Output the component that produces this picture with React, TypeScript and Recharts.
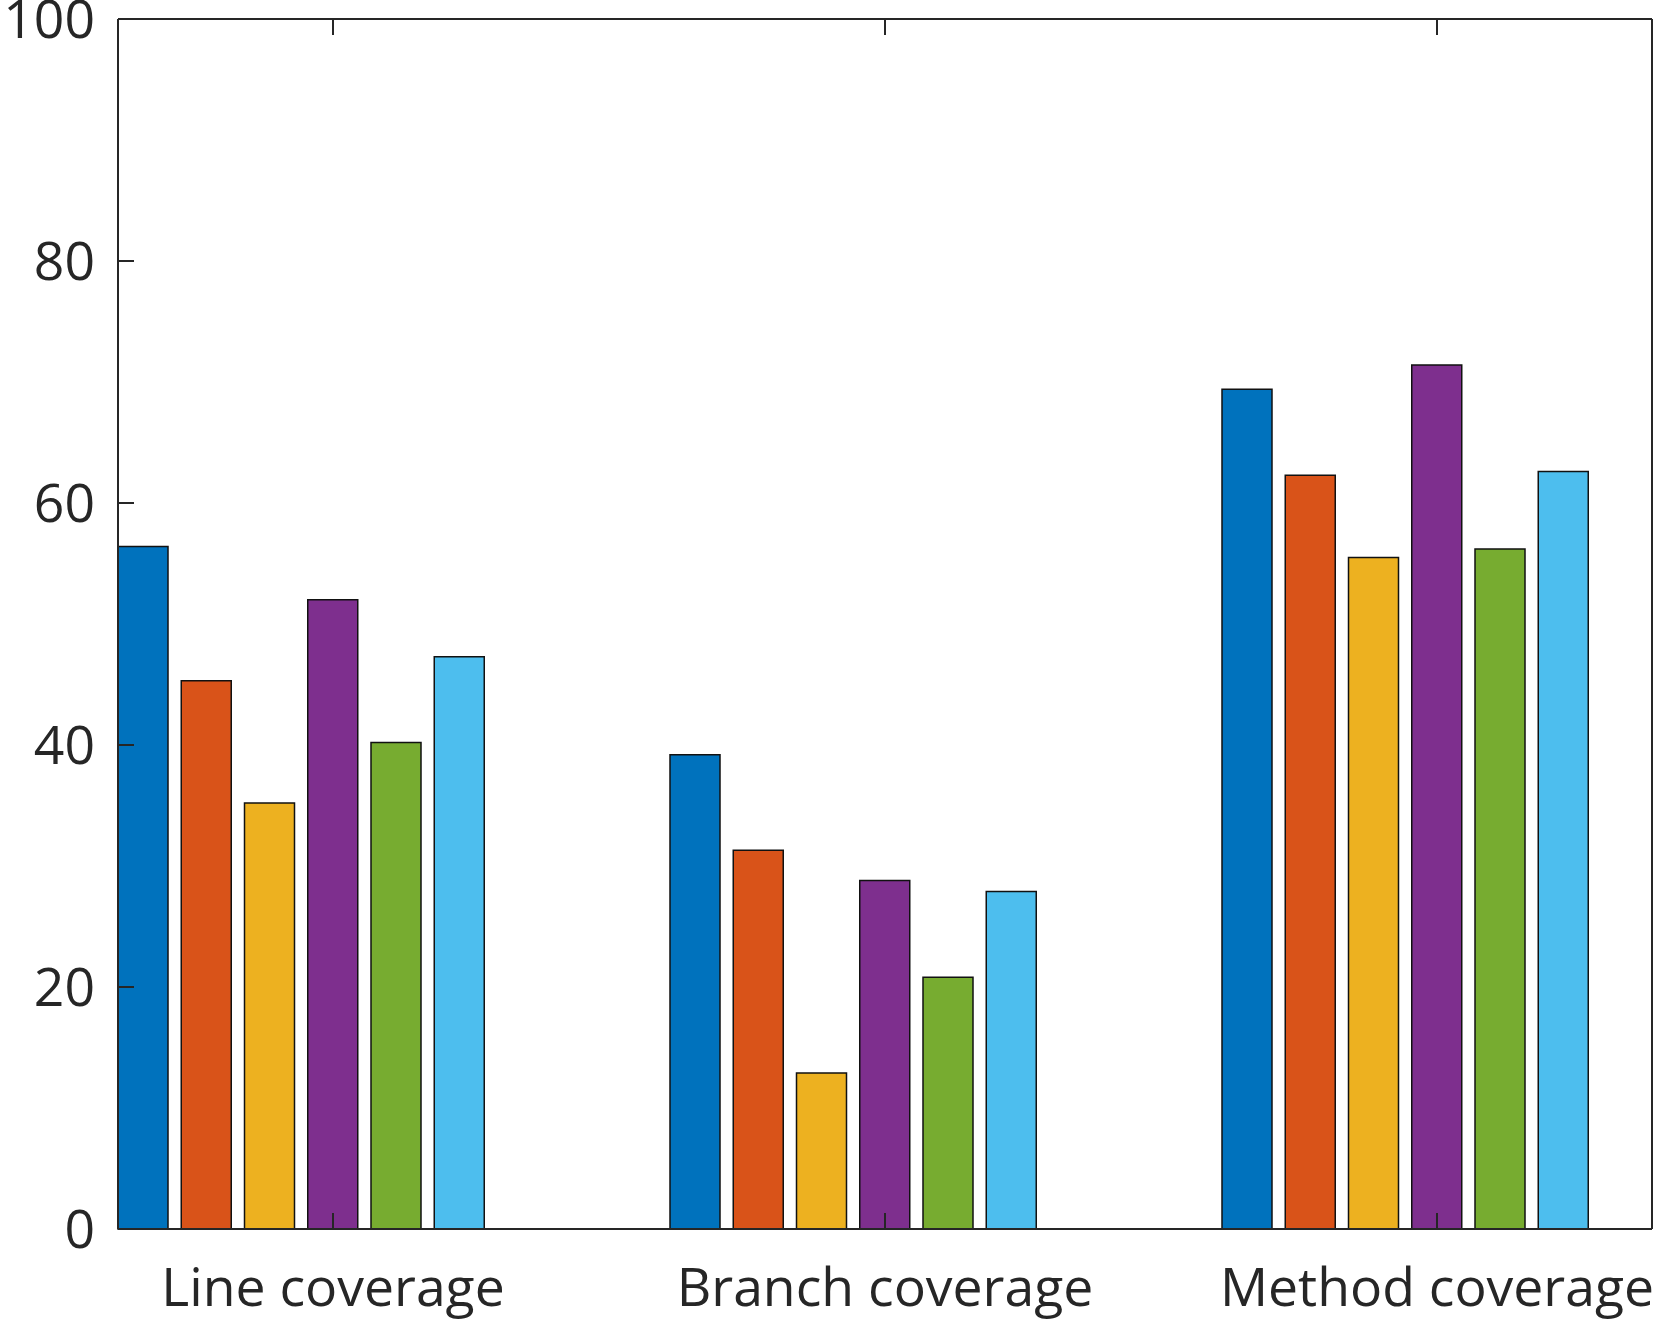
import { BarChart, Bar, XAxis, YAxis } from "recharts";

const categories = ["Line coverage", "Branch coverage", "Method coverage"];

// one array per series, values in %
const series1 = [56.4, 39.2, 69.4];
const series2 = [45.3, 31.3, 62.3];
const series3 = [35.2, 12.9, 55.5];
const series4 = [52.0, 28.8, 71.4];
const series5 = [40.2, 20.8, 56.2];
const series6 = [47.3, 27.9, 62.6];
const series7 = [null, null, null]; // empty 7th group slot

const yTicks = [0, 20, 40, 60, 80, 100];

const colors = ["#0072BD", "#D95319", "#EDB120", "#7E2F8E", "#77AC30", "#4DBEEE", "#A2142F"];

const allSeries = [series1, series2, series3, series4, series5, series6, series7];

const data = categories.map((name, i) => {
  const row: any = { name };
  allSeries.forEach((s, k) => {
    row["s" + (k + 1)] = s[i];
  });
  return row;
});

const axisColor = "#262626";
const font = { fill: "#262626", fontSize: 53.5, fontFamily: "Open Sans" };

// box axes keep their tick marks but show no labels
const NoLabel = () => <g />;

export default function App() {
  return (
    <div style={{ position: "absolute", left: 0, top: 0, background: "#fff" }}>
      <BarChart
        width={1661}
        height={1329}
        data={data}
        margin={{ top: 18, right: 8, left: 0, bottom: 0 }}
        barSize={50}
        barGap={13.25}
      >
        {allSeries.map((_, k) => (
          <Bar
            key={k}
            dataKey={"s" + (k + 1)}
            fill={colors[k]}
            stroke="#111"
            strokeWidth={1.5}
            isAnimationActive={false}
          />
        ))}
        <XAxis
          dataKey="name"
          height={100}
          padding={{ left: -61, right: -61 }}
          tickSize={-16}
          tickMargin={55}
          tick={font}
          stroke={axisColor}
          strokeWidth={2}
          interval={0}
        />
        <XAxis
          xAxisId="top"
          orientation="top"
          dataKey="name"
          height={1}
          padding={{ left: -61, right: -61 }}
          tickSize={-16}
          tick={NoLabel}
          stroke={axisColor}
          strokeWidth={2}
          interval={0}
        />
        <YAxis
          width={118}
          domain={[0, 100]}
          ticks={yTicks}
          tickSize={-16}
          tickMargin={39}
          tick={font}
          stroke={axisColor}
          strokeWidth={2}
          interval={0}
        />
        <YAxis
          yAxisId="right"
          orientation="right"
          width={1}
          type="number"
          domain={[0, 100]}
          ticks={yTicks}
          tickSize={-16}
          tick={NoLabel}
          stroke={axisColor}
          strokeWidth={2}
          interval={0}
        />
      </BarChart>
    </div>
  );
}
